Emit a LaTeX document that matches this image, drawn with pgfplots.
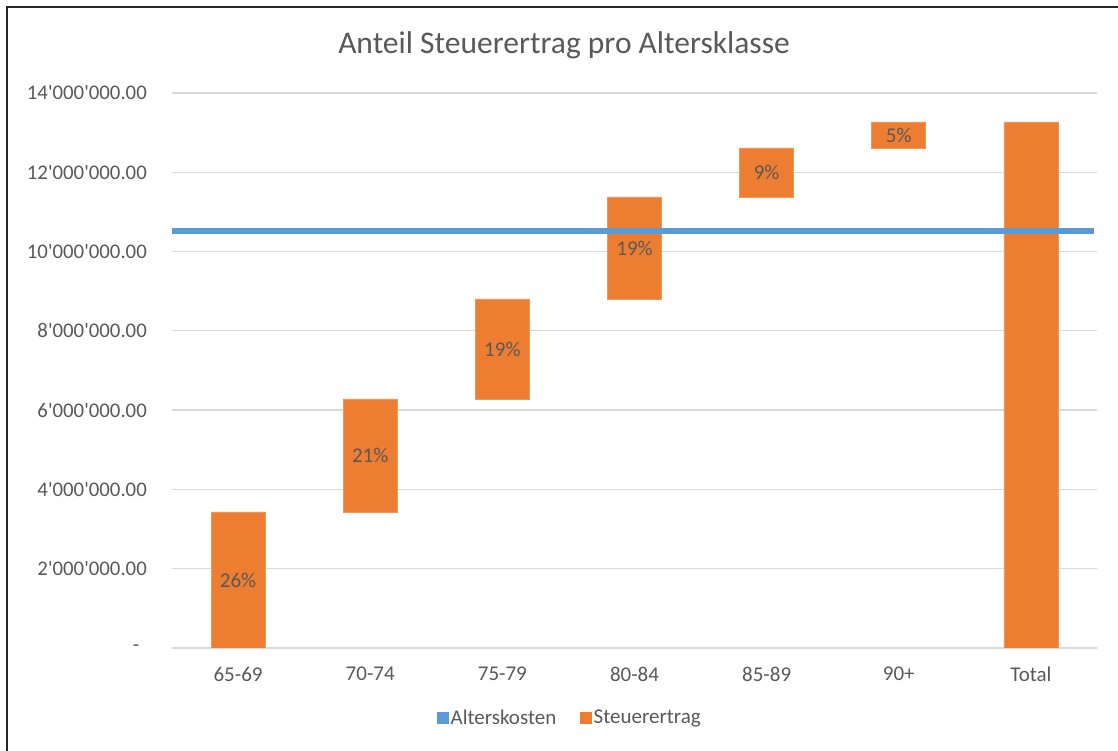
\documentclass[border=0pt]{standalone}
\usepackage{pgfplots}
\pgfplotsset{compat=1.18}
\usepackage{fontspec}
\setmainfont{Carlito}
\definecolor{orangeX}{HTML}{ED7D31}
\definecolor{blueX}{HTML}{5B9BD5}
\definecolor{txt}{HTML}{595959}
\definecolor{gridc}{HTML}{D9D9D9}
\newcommand{\q}{\textquotesingle}
\pgfplotsset{
  common/.style={
    at={(172pt,103pt)}, anchor=south west,
    scale only axis, width=925pt, height=555pt,
    xmin=-0.5, xmax=6.5, ymin=0, ymax=14000000,
  }
}
\begin{document}
\begin{tikzpicture}[x=1pt,y=1pt]
\useasboundingbox (0,0) rectangle (1118,751);
\fill[white] (0,0) rectangle (1118,751);
\draw[line width=2pt, black!85] (7,0) -- (7,744) -- (1118,744);
\node[text=txt, font=\fontsize{31.5}{36}\selectfont] at (564,706) {Anteil Steuerertrag pro Altersklasse};
\begin{axis}[common,
  ybar stacked, bar width=54pt,
  axis line style={draw=none},
  tick style={draw=none},
  ymajorgrids, grid style={gridc, line width=1.3pt},
  scaled y ticks=false,
  ytick={0,2000000,4000000,6000000,8000000,10000000,12000000,14000000},
  yticklabels={\makebox[14pt][l]{-}, 2\q000\q000.00, 4\q000\q000.00, 6\q000\q000.00, 8\q000\q000.00, 10\q000\q000.00, 12\q000\q000.00, 14\q000\q000.00},
  yticklabel style={text=txt, font=\fontsize{20.8}{24}\selectfont, anchor=east, inner sep=0pt, xshift=-25pt},
  xtick={0,1,2,3,4,5,6},
  xticklabels={65-69,70-74,75-79,80-84,85-89,90+,Total},
  xticklabel style={text=txt, font=\fontsize{21}{24}\selectfont, anchor=north, inner sep=0pt, yshift=-19pt},
]
\addplot[draw=none, fill=none] coordinates {(0,0) (1,3431000) (2,6281000) (3,8804000) (4,11377000) (5,12614000) (6,0)};
\addplot[fill=orangeX, draw=orangeX!80!white, line width=0.6pt] coordinates {(0,3431000) (1,2850000) (2,2523000) (3,2573000) (4,1237000) (5,656000) (6,13270000)};
\end{axis}
\begin{axis}[common,
  hide axis,
  legend columns=2,
  legend style={at={(0.4303,-0.126)}, anchor=center, draw=none, fill=none, inner sep=0pt,
    nodes={text=txt, font=\fontsize{21}{24}\selectfont, inner sep=2pt},
    /tikz/every even column/.append style={column sep=22pt}},
]
\addplot[blueX, line width=6pt, forget plot] coordinates {(-0.5,10520000) (6.48,10520000)};
\addplot[draw=none, mark=none, forget plot, nodes near coords, point meta=explicit symbolic,
  every node near coord/.style={anchor=center, text=txt, font=\fontsize{21}{24}\selectfont}]
  coordinates {(0,1715500)[26\%] (1,4856000)[21\%] (2,7542500)[19\%] (3,10090500)[19\%] (4,11995500)[9\%] (5,12942000)[5\%]};
\addlegendimage{legend image code/.code={\fill[blueX] (0pt,-5.5pt) rectangle (11pt,5.5pt);}}
\addlegendentry{Alterskosten}
\addlegendimage{legend image code/.code={\fill[orangeX] (0pt,-5.5pt) rectangle (11pt,5.5pt);}}
\addlegendentry{Steuerertrag}
\end{axis}
\end{tikzpicture}
\end{document}
